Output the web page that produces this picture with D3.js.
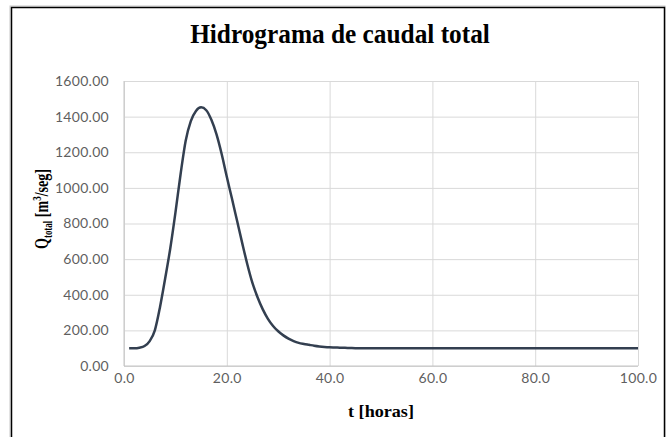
<!DOCTYPE html>
<html>
<head>
<meta charset="utf-8">
<script src="https://cdn.jsdelivr.net/npm/d3@7"></script>
<style>
body { margin: 0; background: #fff; }
.tick text { font-family: Lato, "Open Sans", sans-serif; font-size: 14px; fill: #5f5f5f; letter-spacing: 0.3px; }
.ttl { font-family: "Liberation Serif", "Times New Roman", serif; font-weight: bold; fill: #000; }
</style>
</head>
<body>
<svg id="chart" width="668" height="437"></svg>
<script>
// hidrograma (t en horas, Q en m3/seg)
var horas = [1,2,3,4,5,6,7,8,9,10,11,12,13,14,15,16,17,18,19,20,21,22,23,24,25,26,27,28,29,30,
	31,32,33,34,35,36,37,38,39,40,41,42,43,44,45,46,47,50,60,70,80,90,100];
var caudal = [100,100,103,112,140,200,330,490,660,860,1075,1265,1375,1432,1452,1436,1382,1300,1190,1062,
	940,815,690,570,465,385,318,265,225,195,172,154,140,130,124,119,114,110,107,105,104,103,102,101,100,100,99,
	99,99,99,99,99,99];

var xTicks = [0,20,40,60,80,100];
var xTickLabels = ["0.0","20.0","40.0","60.0","80.0","100.0"];
var yTicks = [0,200,400,600,800,1000,1200,1400,1600];
var yTickLabels = ["0.00","200.00","400.00","600.00","800.00","1000.00","1200.00","1400.00","1600.00"];

var svg = d3.select("#chart"),
	margin = {top: 81, right: 30, bottom: 71, left: 124},
	width = +svg.attr("width") - margin.left - margin.right,
	height = +svg.attr("height") - margin.top - margin.bottom;

// marco exterior
svg.append("rect")
	.attr("x", 10).attr("y", 6).attr("width", 655).attr("height", 450)
	.attr("fill", "none").attr("stroke", "#c8c8c8").attr("stroke-width", 1);
svg.append("rect")
	.attr("x", 11.5).attr("y", 7.5).attr("width", 653).attr("height", 450)
	.attr("fill", "none").attr("stroke", "#000").attr("stroke-width", 1.5);

var x = d3.scaleLinear().domain([0, 100]).range([0, width]);
var y = d3.scaleLinear().domain([0, 1600]).range([height, 0]);

var g = svg.append("g")
		.attr("transform", "translate(" + margin.left + "," + margin.top + ")");

// grilla + etiquetas
g.append("g")
	.attr("class", "x axis")
	.attr("transform", "translate(0," + height + ")")
	.call(d3.axisBottom(x).tickValues(xTicks).tickSize(-height).tickPadding(7)
		.tickFormat(function(d, i) { return xTickLabels[i]; }));

g.append("g")
	.attr("class", "y axis")
	.call(d3.axisLeft(y).tickValues(yTicks).tickSize(-width).tickPadding(15)
		.tickFormat(function(d, i) { return yTickLabels[i]; }));

g.selectAll(".axis .domain").remove();
g.selectAll(".axis line").attr("stroke", "#d9d9d9").attr("stroke-width", 1);

// lineas de ejes
g.append("line").attr("x1", 0).attr("x2", 0).attr("y1", 0).attr("y2", height)
	.attr("stroke", "#c4c4c4");
g.append("line").attr("x1", 0).attr("x2", width).attr("y1", height).attr("y2", height)
	.attr("stroke", "#c4c4c4");

var line = d3.line()
	.x(function(d, i) { return x(horas[i]); })
	.y(function(d) { return y(d); })
	.curve(d3.curveMonotoneX);

g.append("path")
	.datum(caudal)
	.attr("fill", "none")
	.attr("stroke", "#333f50")
	.attr("stroke-width", 2.5)
	.attr("stroke-linejoin", "round")
	.attr("d", line);

// ajusta el ancho de un texto al largo medido en la imagen
function fitText(t, tx, ty, rot, target) {
	var len = t.node().getComputedTextLength();
	var k = target / len;
	t.attr("transform", "translate(" + tx + "," + ty + ")" + (rot ? " rotate(" + rot + ")" : "") + " scale(" + k + ",1)");
}

var title = svg.append("text").attr("class", "ttl")
	.attr("text-anchor", "middle").style("font-size", "27px")
	.text("Hidrograma de caudal total");
fitText(title, 340, 43, 0, 300);

var xt = svg.append("text").attr("class", "ttl")
	.attr("text-anchor", "middle").style("font-size", "17px")
	.text("t [horas]");
fitText(xt, 381, 417, 0, 66);

var yt = svg.append("text").attr("class", "ttl")
	.attr("text-anchor", "middle").style("font-size", "19px");
yt.append("tspan").text("Q");
yt.append("tspan").attr("dy", 4).style("font-size", "12px").text("total");
yt.append("tspan").attr("dy", -4).text(" [m");
yt.append("tspan").attr("dy", -7).style("font-size", "12px").text("3");
yt.append("tspan").attr("dy", 7).text("/seg]");
fitText(yt, 48, 209, -90, 80);
</script>
</body>
</html>
